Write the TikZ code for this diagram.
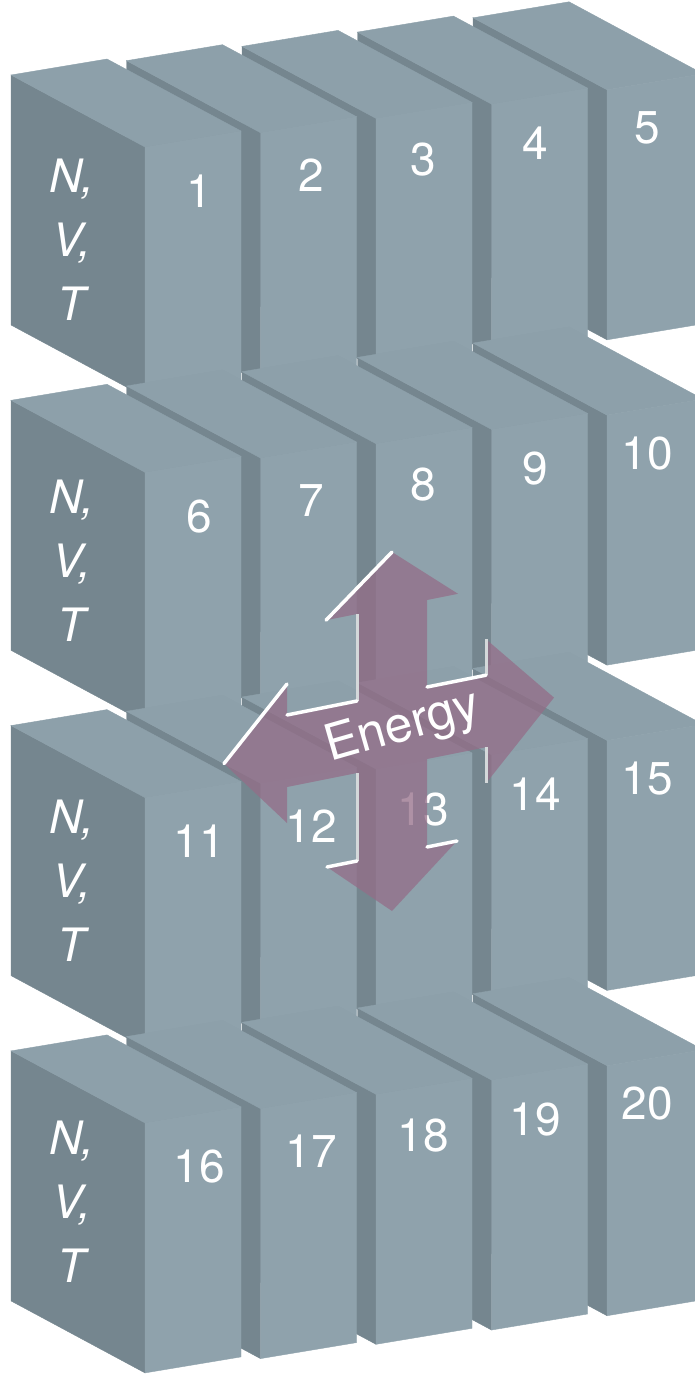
\documentclass[tikz,border=0pt]{standalone}
\usepackage{fontspec}
\setmainfont{TeX Gyre Heros}
\usetikzlibrary{calc}
\definecolor{frontgray}{HTML}{8FA2AC}
\definecolor{topgray}{HTML}{8DA0AA}
\definecolor{sidegray}{HTML}{75868F}
\definecolor{energypurple}{RGB}{148,109,136}
\definecolor{slotgray}{HTML}{D4D8DA}
\tikzstyle{frontface} = [fill=frontgray, draw=frontgray, line width=0.4pt]
\tikzstyle{topface} = [fill=topgray, draw=topgray, line width=0.4pt]
\tikzstyle{sideface} = [fill=sidegray, draw=sidegray, line width=0.4pt]
\tikzstyle{boxnum} = [text=white, inner sep=0pt, font=\fontsize{46}{48}\selectfont]
\tikzstyle{nvtlabel} = [text=white, inner sep=0pt, align=center, font=\fontsize{46}{64}\selectfont\itshape]
\tikzstyle{energylabel} = [text=white, inner sep=0pt, font=\fontsize{50}{52}\selectfont]
\tikzstyle{energyarrow} = [fill=energypurple, fill opacity=0.75]
\tikzstyle{slotedge} = [white, line width=3.5pt, line cap=round]
\tikzstyle{slotside} = [slotgray, line width=3pt]

\begin{document}
\begin{tikzpicture}[x=1pt, y=-1pt]
\useasboundingbox (0,0) rectangle (695,1375);
\clip (0,0) rectangle (695,1375);
	% rows of systems, back row first, right column first
	\foreach \r in {0,...,3} {
		\foreach \c in {4,3,2,1,0} {
			\pgfmathsetmacro{\fx}{145+115.5*\c}
			\pgfmathsetmacro{\fy}{147-14.3*\c+325.3*\r}
			\pgfmathtruncatemacro{\num}{5*\r+\c+1}
			\coordinate (f\num) at (\fx,\fy);
			\draw[sideface] (f\num) -- ++(-134,-72) -- ++(0,250) -- ++(134,72) -- cycle;
			\draw[topface] (f\num) -- ++(-134,-72) -- ++(96,-16) -- ++(134,72) -- cycle;
			\draw[frontface] (f\num) -- ++(96,-16) -- ++(0,250) -- ++(-96,16) -- cycle;
			\node[boxnum] (n\num) at ($(f\num)+(54-3.5*\c,44-1.5*\c)$) {\num};
		}
		\pgfmathsetmacro{\ny}{240+320.5*\r}
		\pgfmathtruncatemacro{\row}{\r+1}
		\node[nvtlabel] (nvt\row) at (72,\ny) {N,\\V,\\T};
	}

	% energy cross
	\begin{scope}[shift={(392,730)}, x={(1pt,0.2pt)}, y={(0pt,-1pt)}]
		\fill[energyarrow] (0,-178) -- (66,-123) -- (35,-123) -- (35,-36) -- (94,-36) -- (94,-72)
			-- (162,0) -- (94,72) -- (94,36) -- (35,36) -- (35,124) -- (65,124) -- (0,181)
			-- (-65,124) -- (-35,124) -- (-35,36) -- (-105,36) -- (-105,72) -- (-168,0)
			-- (-105,-67) -- (-105,-36) -- (-35,-36) -- (-35,-123) -- (-66,-123) -- cycle;
		\draw[slotside] (-35,-123) -- (-35,-36);
		\draw[slotside] (94,-72) -- (94,-36);
		\draw[slotside] (94,36) -- (94,72);
		\draw[slotside] (-35,36) -- (-35,124);
		\draw[slotedge] (-66,-123) -- (0,-178);
		\draw[slotedge] (-105,-36) -- (-35,-36);
		\draw[slotedge] (-105,-67) -- (-168,0);
		\draw[slotedge] (35,-36) -- (94,-36);
		\draw[slotedge] (-65,124) -- (-35,124);
		\draw[slotedge] (35,124) -- (65,124);
		\node[energylabel, rotate=16] (energy) at (11,0) {Energy};
	\end{scope}
\end{tikzpicture}
\end{document}
